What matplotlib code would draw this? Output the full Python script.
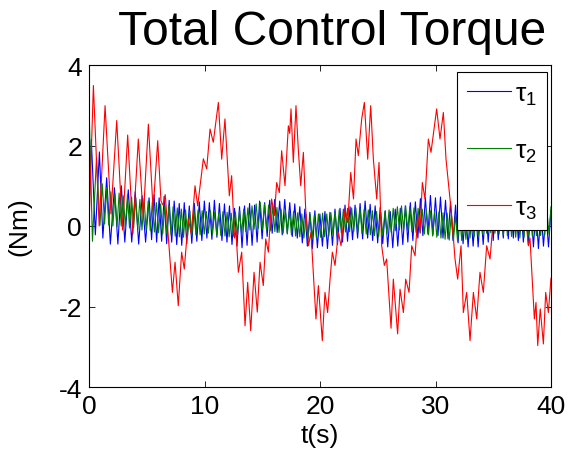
import matplotlib
matplotlib.use('Agg')
import matplotlib.pyplot as plt
import numpy as np

plt.rcParams['font.family'] = ['Liberation Sans', 'DejaVu Sans']
plt.rcParams['mathtext.fontset'] = 'custom'
plt.rcParams['mathtext.rm'] = 'Liberation Sans'
plt.rcParams['mathtext.it'] = 'Liberation Sans'
plt.rcParams['axes.unicode_minus'] = False

# ---------------- data ----------------
title = 'Total Control Torque'
xlabel = 't(s)'
ylabel = '(Nm)'
labels = ['\u03c4$_1$', '\u03c4$_2$', '\u03c4$_3$']
xticks = [0, 10, 20, 30, 40]
yticks = [-4, -2, 0, 2, 4]

# tau1 : early transient turning points
tau1_early_t = [0.0, 0.2, 0.55, 0.9, 1.2, 1.53, 1.85, 2.2, 2.5, 2.8, 3.1, 3.4,
                3.7, 4.0, 4.3, 4.6, 4.9, 5.2]
tau1_early_v = [0.3, 2.15, -0.22, 1.84, -0.3, 1.2, -0.45, 0.95, -0.45, 1.0, -0.4,
                0.9, -0.4, 0.85, -0.45, 0.75, -0.4, 0.7]
# tau1 : later oscillation, troughs and peaks of each cycle (5.4 s .. 40 s)
tau1_troughs = [-0.34, -0.40, -0.38, -0.44, -0.40, -0.46, -0.48, -0.44, -0.43, -0.38,
                -0.36, -0.30, -0.33, -0.28, -0.36, -0.40, -0.46, -0.50, -0.54, -0.48,
                -0.48, -0.40, -0.32, -0.26, -0.18, -0.16, -0.22, -0.18, -0.26, -0.30,
                -0.42, -0.50, -0.56, -0.54, -0.50, -0.56, -0.48, -0.46, -0.40, -0.38,
                -0.34, -0.30, -0.32, -0.30, -0.36, -0.42, -0.44, -0.52, -0.54, -0.50,
                -0.46, -0.40, -0.36, -0.30, -0.24, -0.20, -0.22, -0.24, -0.30, -0.32,
                -0.36, -0.42, -0.44, -0.52, -0.50, -0.52, -0.46, -0.40, -0.36, -0.34,
                -0.30, -0.32, -0.30, -0.36, -0.40, -0.46, -0.52, -0.56, -0.50, -0.52]
tau1_peaks = [0.78, 0.70, 0.74, 0.64, 0.62, 0.56, 0.58, 0.50, 0.56, 0.60,
              0.62, 0.58, 0.64, 0.56, 0.55, 0.50, 0.44, 0.48, 0.50, 0.56,
              0.52, 0.62, 0.58, 0.64, 0.66, 0.62, 0.66, 0.58, 0.55, 0.48,
              0.42, 0.34, 0.38, 0.30, 0.36, 0.34, 0.42, 0.44, 0.52, 0.48,
              0.52, 0.56, 0.62, 0.54, 0.50, 0.46, 0.38, 0.36, 0.42, 0.44,
              0.50, 0.58, 0.60, 0.68, 0.70, 0.76, 0.70, 0.72, 0.64, 0.60,
              0.52, 0.44, 0.42, 0.38, 0.42, 0.44, 0.48, 0.50, 0.56, 0.54,
              0.60, 0.58, 0.56, 0.54, 0.50, 0.46, 0.40, 0.42, 0.34, 0.40]
tau1_late_start = 5.42

# tau2 : early transient turning points
tau2_early_t = [0.0, 0.3, 0.65, 0.95, 1.15]
tau2_early_v = [3.0, -0.38, 1.7, 0.02, 1.05]
# tau2 : later oscillation, troughs and peaks of each cycle (1.35 s .. 40 s)
tau2_troughs = [0.05, 0.02, 0.00, -0.02, 0.00, -0.03,
                -0.05, -0.04, -0.08, -0.10, -0.10, -0.12,
                -0.15, -0.17, -0.20, -0.20, -0.22, -0.25,
                -0.27, -0.28, -0.25, -0.24, -0.22, -0.22,
                -0.20, -0.18, -0.20, -0.22, -0.24, -0.25,
                -0.27, -0.26, -0.22, -0.18, -0.14, -0.10,
                -0.08, -0.06, -0.08, -0.10, -0.12, -0.14,
                -0.16, -0.18, -0.20, -0.22, -0.25, -0.27,
                -0.30, -0.32, -0.30, -0.29, -0.28, -0.27,
                -0.25, -0.22, -0.20, -0.17, -0.15, -0.14,
                -0.14, -0.16, -0.18, -0.20, -0.22, -0.24,
                -0.26, -0.24, -0.20, -0.16, -0.12, -0.10,
                -0.10, -0.12, -0.14, -0.16, -0.18, -0.20,
                -0.22, -0.25, -0.28, -0.30, -0.33, -0.35,
                -0.37, -0.38, -0.36, -0.33, -0.30, -0.27,
                -0.24, -0.20, -0.18, -0.17, -0.18, -0.20,
                -0.22, -0.24, -0.26, -0.28, -0.30, -0.28,
                -0.26, -0.25, -0.24, -0.24, -0.22, -0.20]
tau2_peaks = [0.95, 0.85, 0.80, 0.82, 0.75, 0.78,
              0.72, 0.70, 0.66, 0.68, 0.62, 0.60,
              0.58, 0.55, 0.50, 0.52, 0.48, 0.45,
              0.42, 0.40, 0.38, 0.42, 0.40, 0.38,
              0.36, 0.38, 0.35, 0.33, 0.36, 0.34,
              0.32, 0.35, 0.38, 0.42, 0.45, 0.50,
              0.55, 0.58, 0.55, 0.52, 0.50, 0.46,
              0.42, 0.40, 0.38, 0.36, 0.33, 0.30,
              0.30, 0.28, 0.27, 0.30, 0.32, 0.30,
              0.33, 0.36, 0.40, 0.42, 0.44, 0.45,
              0.45, 0.43, 0.42, 0.40, 0.38, 0.36,
              0.34, 0.36, 0.40, 0.44, 0.48, 0.50,
              0.50, 0.48, 0.45, 0.44, 0.42, 0.40,
              0.38, 0.36, 0.35, 0.33, 0.32, 0.30,
              0.28, 0.26, 0.28, 0.30, 0.33, 0.36,
              0.40, 0.44, 0.46, 0.48, 0.46, 0.44,
              0.42, 0.40, 0.38, 0.36, 0.35, 0.34,
              0.32, 0.30, 0.32, 0.35, 0.40, 0.48]
tau2_late_start = 1.35

# tau3 : turning points
tau3_t = [0.0, 0.38, 0.88, 1.39, 1.9, 2.4, 2.9, 3.35, 3.8, 4.27, 4.7, 5.14, 5.55, 5.95,
          6.23, 6.45, 6.6, 7.22, 7.45, 7.73, 8.02, 8.25, 8.6, 8.85, 9.18, 9.41, 9.9,
          10.19, 10.48, 10.76, 11.2, 11.49, 11.77, 12.15, 12.35, 12.6, 12.72, 12.93,
          13.22, 13.51, 13.74, 14.0, 14.29, 14.57, 14.81, 15.09, 15.3, 15.53, 15.81,
          16.05, 16.25, 16.48, 16.68, 16.97, 17.26, 17.38, 17.49, 17.69, 17.92, 18.12,
          18.33, 18.56, 18.76, 19.0, 19.22, 19.65, 19.86, 20.2, 20.43, 20.66, 20.87,
          21.07, 21.3, 21.59, 21.82, 22.17, 22.4, 22.66, 22.9, 23.12, 23.32, 23.61,
          23.84, 24.13, 24.39, 24.62, 24.91, 25.11, 25.34, 25.57, 25.77, 26.15, 26.35,
          26.72, 26.93, 27.22, 27.42, 27.71, 27.94, 28.23, 28.46, 28.66, 28.86, 29.09,
          29.38, 29.61, 30.1, 30.39, 30.68, 30.91, 31.4, 31.69, 31.92, 32.21, 32.41,
          32.7, 32.99, 33.28, 33.57, 33.85, 34.14, 34.43, 34.72, 35.01, 35.25, 35.5,
          35.75, 36.0, 36.25, 36.5, 36.75, 37.0, 37.25, 37.5, 37.75, 38.04, 38.18,
          38.56, 38.7, 38.85, 39.07, 39.34, 39.54, 39.77, 40.0]
tau3_v = [0.0, 3.49, 0.0, 2.99, 0.3, 2.62, -0.1, 2.26, -0.2, 2.16, 0.2, 2.53, 0.4, 2.12,
          0.62, 0.5, 0.78, -1.65, -0.9, -1.98, -0.65, -1.07, 0.18, -0.2, 1.0, 0.5, 1.67,
          1.42, 2.41, 2.08, 3.07, 1.66, 2.66, 0.75, 1.25, -0.3, -0.1, -1.15,
          -0.65, -2.48, -1.4, -2.6, -1.15, -2.14, -0.9, -1.48, -0.32, -0.65, 0.67,
          0.26, 1.08, 0.83, 1.87, 1.0, 2.49, 2.3, 2.91, 1.58, 2.99, 1.91,
          1.0, 1.83, 0.42, -0.49, -0.16, -2.31, -1.48, -2.85, -1.65, -2.15, -1.32,
          -0.65, -0.98, -0.16, -0.49, 0.42, 0.08, 1.33, 0.67, 2.16, 1.75, 2.66,
          3.07, 1.66, 2.99, 1.66, 0.67, 1.58, -0.49, -0.98, -0.82, -2.54, -1.32,
          -2.68, -1.57, -2.15, -1.32, -1.65, -0.49, -0.74, 0.26, -0.16, 1.08, 0.67,
          2.16, 1.83, 2.91, 2.16, 2.82, 1.66, 0.26, -0.82, -1.32, -0.49, -2.15,
          -1.65, -2.85, -1.65, -2.31, -1.15, -1.65, -0.49, -0.82, 0.18, -0.1, 1.1,
          0.7, 2.0, 1.6, 2.9, 1.7, 2.9, 1.6, 1.2, 0.4, -0.49, -0.3,
          -2.31, -1.9, -2.97, -2.06, -2.93, -1.65, -2.15, -1.3]

# ---------------- assemble series ----------------
tau1_late = np.column_stack([tau1_troughs, tau1_peaks]).ravel()
t1 = np.concatenate([tau1_early_t, np.linspace(tau1_late_start, 40, len(tau1_late))])
v1 = np.concatenate([tau1_early_v, tau1_late])

tau2_late = np.column_stack([tau2_troughs, tau2_peaks]).ravel()
t2 = np.concatenate([tau2_early_t, np.linspace(tau2_late_start, 40, len(tau2_late))])
v2 = np.concatenate([tau2_early_v, tau2_late])

# ---------------- figure ----------------
fig = plt.figure(figsize=(5.81, 4.56), dpi=100)
ax = fig.add_axes([89 / 581, 68 / 456, 462 / 581, 322 / 456])

lw = 0.8
ax.plot(t1, v1, color=(0, 0, 1), lw=lw, label=labels[0])
ax.plot(t2, v2, color=(0, 0.5, 0), lw=lw, label=labels[1])
ax.plot(tau3_t, tau3_v, color=(1, 0, 0), lw=lw, label=labels[2])

ax.set_xlim(0, 40)
ax.set_ylim(-4, 4)
ax.set_xticks(xticks)
ax.set_yticks(yticks)
ax.tick_params(direction='in', top=True, right=True, length=4, width=0.6,
               labelsize=19, pad=5)
for s in ax.spines.values():
    s.set_linewidth(0.8)
    s.set_color('black')

ax.set_xlabel(xlabel, fontsize=19)
ax.xaxis.set_label_coords(0.5, -0.112)
ax.set_ylabel(ylabel, fontsize=19)
ax.yaxis.set_label_coords(-0.125, 0.5)

fig.text(332 / 581, 1 - 45 / 456, title, ha='center', va='baseline', fontsize=34.5)

leg = ax.legend(loc='upper right', bbox_to_anchor=(0.991, 0.977), borderaxespad=0,
                fontsize=19, frameon=True, fancybox=False, framealpha=1,
                edgecolor='black', handlelength=1.7, handletextpad=0.15,
                labelspacing=1.2, borderpad=0.35)
leg.get_frame().set_linewidth(0.8)

fig.savefig('out.png', dpi=100)
